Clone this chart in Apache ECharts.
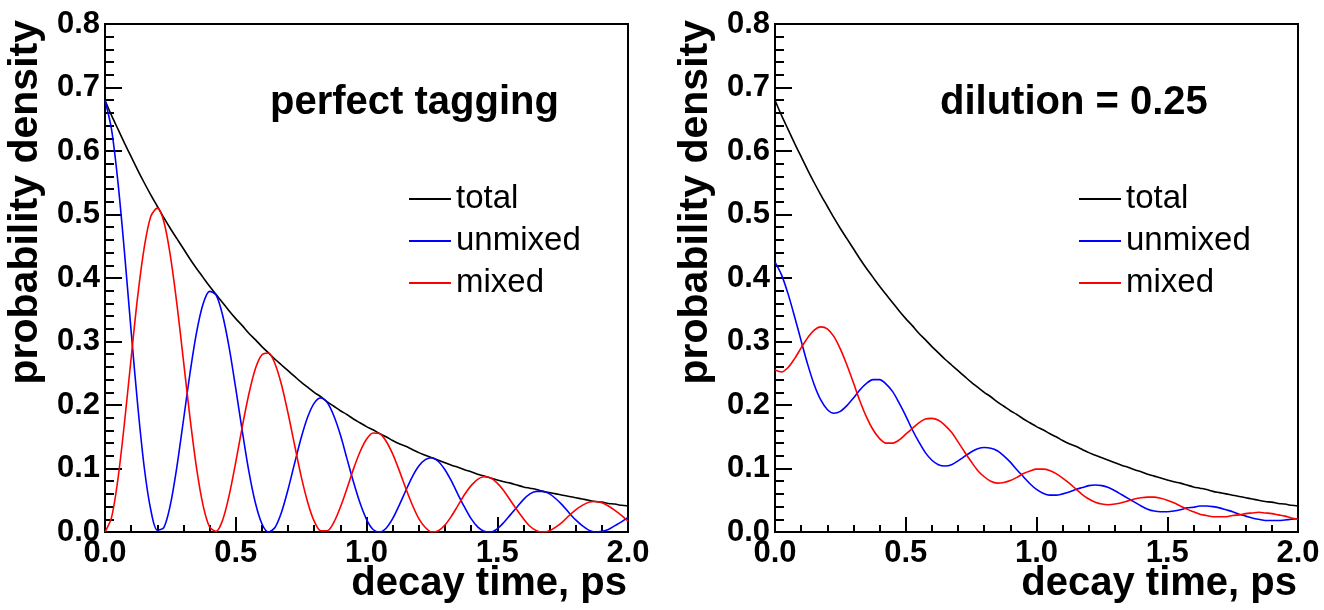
<!DOCTYPE html>
<html>
<head>
<meta charset="utf-8">
<script src="https://cdn.jsdelivr.net/npm/echarts@6/dist/echarts.min.js"></script>
<style>
html,body{margin:0;padding:0;background:#fff;}
#c{width:1324px;height:610px;}
</style>
</head>
<body>
<div id="c"></div>
<script>
// decay time (ps)
const times = [0,0.025,0.05,0.075,0.1,0.125,0.15,0.175,0.2,0.225,0.25,0.275,0.3,0.325,0.35,0.375,0.4,0.425,0.45,0.475,0.5,0.525,0.55,0.575,0.6,0.625,0.65,0.675,0.7,0.725,0.75,0.775,0.8,0.825,0.85,0.875,0.9,0.925,0.95,0.975,1,1.025,1.05,1.075,1.1,1.125,1.15,1.175,1.2,1.225,1.25,1.275,1.3,1.325,1.35,1.375,1.4,1.425,1.45,1.475,1.5,1.525,1.55,1.575,1.6,1.625,1.65,1.675,1.7,1.725,1.75,1.775,1.8,1.825,1.85,1.875,1.9,1.925,1.95,1.975,2];

const total = [0.680,0.656,0.634,0.612,0.591,0.570,0.550,0.531,0.513,0.495,
0.478,0.462,0.446,0.430,0.415,0.401,0.387,0.374,0.361,0.348,
0.336,0.325,0.313,0.303,0.292,0.282,0.272,0.263,0.254,0.245,
0.236,0.228,0.220,0.213,0.205,0.198,0.191,0.185,0.178,0.172,
0.166,0.161,0.155,0.150,0.144,0.139,0.135,0.130,0.125,0.121,
0.117,0.113,0.109,0.105,0.102,0.098,0.095,0.091,0.088,0.085,
0.082,0.079,0.077,0.074,0.071,0.069,0.067,0.064,0.062,0.060,
0.058,0.056,0.054,0.052,0.050,0.048,0.047,0.045,0.044,0.042,
0.041];

const unmixedPerfect = [0.680,0.634,0.549,0.438,0.316,0.200,0.102,0.035,0.003,0.007,
0.043,0.103,0.176,0.250,0.314,0.359,0.379,0.373,0.341,0.290,
0.226,0.159,0.096,0.046,0.013,0.000,0.007,0.031,0.067,0.108,
0.148,0.181,0.203,0.211,0.204,0.183,0.153,0.116,0.079,0.046,
0.020,0.004,0.000,0.006,0.021,0.042,0.065,0.087,0.104,0.114,
0.117,0.111,0.098,0.080,0.059,0.039,0.021,0.008,0.001,0.000,
0.005,0.015,0.027,0.039,0.051,0.060,0.064,0.064,0.060,0.052,
0.042,0.030,0.019,0.010,0.003,0.000,0.001,0.004,0.010,0.016,
0.023];

const mixedPerfect = [0.000,0.023,0.085,0.174,0.274,0.371,0.448,0.497,0.510,0.489,
0.435,0.359,0.270,0.180,0.101,0.042,0.008,0.001,0.019,0.058,
0.110,0.166,0.217,0.257,0.279,0.282,0.265,0.232,0.187,0.137,
0.088,0.047,0.017,0.002,0.002,0.015,0.039,0.068,0.099,0.126,
0.146,0.156,0.155,0.143,0.123,0.097,0.069,0.043,0.021,0.007,
0.000,0.002,0.011,0.025,0.042,0.059,0.073,0.083,0.087,0.085,
0.077,0.065,0.050,0.035,0.021,0.009,0.002,0.000,0.002,0.008,
0.016,0.026,0.035,0.042,0.047,0.048,0.046,0.041,0.034,0.026,
0.017];

const unmixedDiluted = [0.425,0.405,0.375,0.339,0.301,0.264,0.232,0.208,0.193,0.187,
0.190,0.199,0.211,0.224,0.234,0.240,0.240,0.233,0.221,0.203,
0.183,0.161,0.142,0.125,0.113,0.106,0.104,0.106,0.112,0.119,
0.126,0.131,0.133,0.132,0.128,0.120,0.110,0.098,0.087,0.076,
0.067,0.061,0.058,0.058,0.060,0.063,0.067,0.070,0.073,0.074,
0.073,0.070,0.065,0.059,0.053,0.047,0.041,0.036,0.033,0.032,
0.032,0.033,0.035,0.038,0.039,0.041,0.041,0.040,0.038,0.035,
0.032,0.028,0.025,0.022,0.020,0.018,0.018,0.018,0.019,0.020,
0.021];

const mixedDiluted = [0.255,0.252,0.259,0.273,0.290,0.306,0.318,0.323,0.320,0.308,
0.288,0.263,0.235,0.206,0.181,0.161,0.147,0.140,0.140,0.145,
0.154,0.163,0.172,0.178,0.179,0.176,0.168,0.157,0.142,0.126,
0.111,0.097,0.087,0.080,0.077,0.078,0.081,0.086,0.092,0.096,
0.099,0.099,0.097,0.092,0.085,0.077,0.068,0.059,0.052,0.047,
0.044,0.043,0.044,0.046,0.049,0.052,0.054,0.055,0.055,0.053,
0.050,0.046,0.041,0.036,0.032,0.028,0.026,0.024,0.024,0.024,
0.026,0.027,0.029,0.030,0.031,0.030,0.029,0.027,0.025,0.022,
0.020];

const xTickLabels = ['0.0','0.5','1.0','1.5','2.0'];
const yTickLabels = ['0.0','0.1','0.2','0.3','0.4','0.5','0.6','0.7','0.8'];
const seriesNames = ['total','unmixed','mixed'];
const seriesColors = ['#000000','#0000ff','#ff0000'];
const panelTitles = ['perfect tagging','dilution = 0.25'];
const xTitle = 'decay time, ps';
const yTitle = 'probability density';

const panels = [
  {total: total, unmixed: unmixedPerfect, mixed: mixedPerfect},
  {total: total, unmixed: unmixedDiluted, mixed: mixedDiluted}
];

const FONT = 'Liberation Sans';
const gridLefts = [105, 775];
const gridWidth = 523;
const gridTop = 24;
const gridHeight = 508;

const chart = echarts.init(document.getElementById('c'), null, {renderer: 'canvas'});

const grids = [], xAxes = [], yAxes = [], series = [], legends = [], graphics = [];

panels.forEach(function (p, gi) {
  const gl = gridLefts[gi];
  grids.push({
    left: gl, top: gridTop, width: gridWidth, height: gridHeight,
    containLabel: false, outerBoundsMode: 'none',
    show: true, borderColor: '#000', borderWidth: 2, backgroundColor: 'transparent'
  });
  xAxes.push({
    type: 'value', gridIndex: gi, min: 0, max: 2, interval: 0.5,
    axisLine: {show: true, onZero: false, lineStyle: {color: '#000', width: 2}},
    axisTick: {show: true, inside: true, length: 15, lineStyle: {color: '#000', width: 2}},
    minorTick: {show: true, splitNumber: 5, length: 7, lineStyle: {color: '#000', width: 2}},
    splitLine: {show: false}, minorSplitLine: {show: false},
    axisLabel: {
      margin: 6, fontFamily: FONT, fontWeight: 'bold', fontSize: 31, color: '#000',
      formatter: function (v) { return xTickLabels[Math.round(v / 0.5)]; }
    }
  });
  yAxes.push({
    type: 'value', gridIndex: gi, min: 0, max: 0.8, interval: 0.1,
    axisLine: {show: true, onZero: false, lineStyle: {color: '#000', width: 2}},
    axisTick: {show: true, inside: true, length: 17, lineStyle: {color: '#000', width: 2}},
    minorTick: {show: true, splitNumber: 5, length: 9, lineStyle: {color: '#000', width: 2}},
    splitLine: {show: false}, minorSplitLine: {show: false},
    axisLabel: {
      margin: 5, fontFamily: FONT, fontWeight: 'bold', fontSize: 31, color: '#000',
      formatter: function (v) { return yTickLabels[Math.round(v / 0.1)]; }
    }
  });
  const vals = [p.total, p.unmixed, p.mixed];
  seriesNames.forEach(function (name, si) {
    series.push({
      type: 'line', name: name, xAxisIndex: gi, yAxisIndex: gi,
      data: times.map(function (t, i) { return [t, vals[si][i]]; }),
      symbol: 'none', showSymbol: false, smooth: 0.3, silent: true,
      lineStyle: {color: seriesColors[si], width: 1.6},
      itemStyle: {color: seriesColors[si]}
    });
  });
  legends.push({
    orient: 'vertical', left: gl + 303, top: 178, padding: 0, itemGap: 0,
    itemWidth: 42, itemHeight: 2, selectedMode: false,
    data: seriesNames,
    textStyle: {fontFamily: FONT, fontSize: 33, color: '#000', lineHeight: 42}
  });
  graphics.push({
    type: 'text', x: gl + 165, y: 103,
    style: {text: panelTitles[gi], fontFamily: FONT, fontWeight: 'bold', fontSize: 40,
            fill: '#000', align: 'left', verticalAlign: 'middle'}
  });
  graphics.push({
    type: 'text', x: gl + gridWidth - 1, y: 584,
    style: {text: xTitle, fontFamily: FONT, fontWeight: 'bold', fontSize: 40,
            fill: '#000', align: 'right', verticalAlign: 'middle'}
  });
  graphics.push({
    type: 'text', x: gl - 79, y: 20, rotation: Math.PI / 2,
    style: {text: yTitle, fontFamily: FONT, fontWeight: 'bold', fontSize: 41,
            fill: '#000', align: 'right', verticalAlign: 'middle'}
  });
});

chart.setOption({
  animation: false,
  backgroundColor: '#ffffff',
  grid: grids,
  xAxis: xAxes,
  yAxis: yAxes,
  legend: legends,
  series: series,
  graphic: graphics
});
</script>
</body>
</html>
